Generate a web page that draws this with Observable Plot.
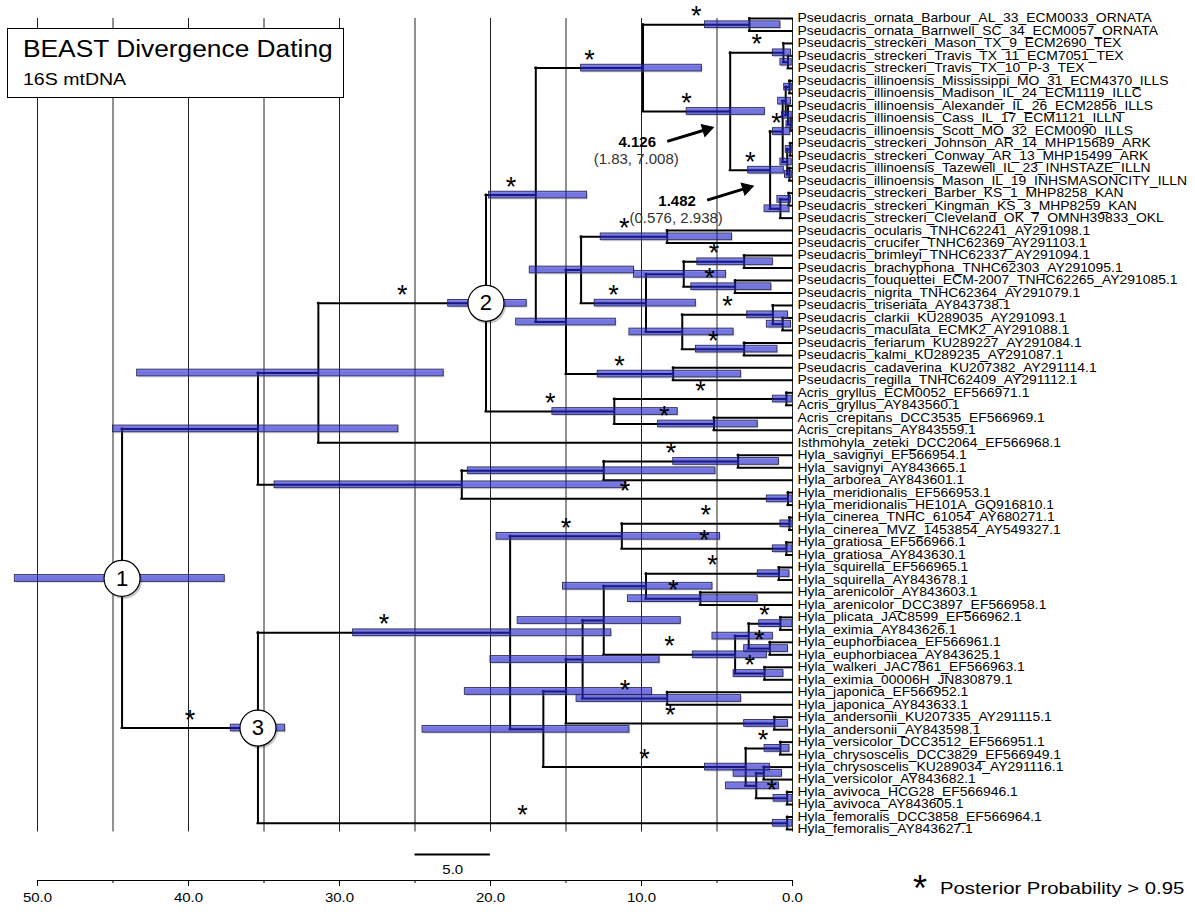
<!DOCTYPE html>
<html><head><meta charset="utf-8">
<script src="https://cdn.jsdelivr.net/npm/d3@7"></script>
<script src="https://cdn.jsdelivr.net/npm/@observablehq/plot@0.6"></script>
<style>
body{margin:0;background:#fff;font-family:'Liberation Sans',Arial,Helvetica,sans-serif;color:#000}
#wrap{position:relative;width:1195px;height:917px;overflow:hidden}
#titlebox{position:absolute;left:7px;top:28px;width:335px;height:68px;border:1px solid #000;background:#fff}
.st{position:absolute;white-space:nowrap;transform-origin:0 0;line-height:1}
#t1{left:15px;top:9px;font-size:23.5px;transform:scaleX(1.12)}
#t2{left:15px;top:42px;font-size:16.3px;transform:scaleX(1.2)}
#legstar{left:913px;top:871px;font-size:36px}
#legtext{left:940px;top:880px;font-size:16.5px;transform:scaleX(1.23)}
</style></head><body>
<div id="wrap"><div id="chart"></div>
<div id="titlebox"><div class="st" id="t1">BEAST Divergence Dating</div><div class="st" id="t2">16S mtDNA</div></div>
<div class="st" id="legstar">*</div><div class="st" id="legtext">Posterior Probability &gt; 0.95</div>
</div>
<script>
// ---- tip labels, top to bottom ----
const taxa = [
"Pseudacris_ornata_Barbour_AL_33_ECM0033_ORNATA",
"Pseudacris_ornata_Barnwell_SC_34_ECM0057_ORNATA",
"Pseudacris_streckeri_Mason_TX_9_ECM2690_TEX",
"Pseudacris_streckeri_Travis_TX_11_ECM7051_TEX",
"Pseudacris_streckeri_Travis_TX_10_P-3_TEX",
"Pseudacris_illinoensis_Mississippi_MO_31_ECM4370_ILLS",
"Pseudacris_illinoensis_Madison_IL_24_ECM1119_ILLC",
"Pseudacris_illinoensis_Alexander_IL_26_ECM2856_ILLS",
"Pseudacris_illinoensis_Cass_IL_17_ECM1121_ILLN",
"Pseudacris_illinoensis_Scott_MO_32_ECM0090_ILLS",
"Pseudacris_streckeri_Johnson_AR_14_MHP15689_ARK",
"Pseudacris_streckeri_Conway_AR_13_MHP15499_ARK",
"Pseudacris_illinoensis_Tazewell_IL_23_INHSTAZE_ILLN",
"Pseudacris_illinoensis_Mason_IL_19_INHSMASONCITY_ILLN",
"Pseudacris_streckeri_Barber_KS_1_MHP8258_KAN",
"Pseudacris_streckeri_Kingman_KS_3_MHP8259_KAN",
"Pseudacris_streckeri_Cleveland_OK_7_OMNH39833_OKL",
"Pseudacris_ocularis_TNHC62241_AY291098.1",
"Pseudacris_crucifer_TNHC62369_AY291103.1",
"Pseudacris_brimleyi_TNHC62337_AY291094.1",
"Pseudacris_brachyphona_TNHC62303_AY291095.1",
"Pseudacris_fouquettei_ECM-2007_TNHC62265_AY291085.1",
"Pseudacris_nigrita_TNHC62364_AY291079.1",
"Pseudacris_triseriata_AY843738.1",
"Pseudacris_clarkii_KU289035_AY291093.1",
"Pseudacris_maculata_ECMK2_AY291088.1",
"Pseudacris_feriarum_KU289227_AY291084.1",
"Pseudacris_kalmi_KU289235_AY291087.1",
"Pseudacris_cadaverina_KU207382_AY291114.1",
"Pseudacris_regilla_TNHC62409_AY291112.1",
"Acris_gryllus_ECM0052_EF566971.1",
"Acris_gryllus_AY843560.1",
"Acris_crepitans_DCC3535_EF566969.1",
"Acris_crepitans_AY843559.1",
"Isthmohyla_zeteki_DCC2064_EF566968.1",
"Hyla_savignyi_EF566954.1",
"Hyla_savignyi_AY843665.1",
"Hyla_arborea_AY843601.1",
"Hyla_meridionalis_EF566953.1",
"Hyla_meridionalis_HE101A_GQ916810.1",
"Hyla_cinerea_TNHC_61054_AY680271.1",
"Hyla_cinerea_MVZ_1453854_AY549327.1",
"Hyla_gratiosa_EF566966.1",
"Hyla_gratiosa_AY843630.1",
"Hyla_squirella_EF566965.1",
"Hyla_squirella_AY843678.1",
"Hyla_arenicolor_AY843603.1",
"Hyla_arenicolor_DCC3897_EF566958.1",
"Hyla_plicata_JAC8599_EF566962.1",
"Hyla_eximia_AY843626.1",
"Hyla_euphorbiacea_EF566961.1",
"Hyla_euphorbiacea_AY843625.1",
"Hyla_walkeri_JAC7861_EF566963.1",
"Hyla_eximia_00006H_JN830879.1",
"Hyla_japonica_EF566952.1",
"Hyla_japonica_AY843633.1",
"Hyla_andersonii_KU207335_AY291115.1",
"Hyla_andersonii_AY843598.1",
"Hyla_versicolor_DCC3512_EF566951.1",
"Hyla_chrysoscelis_DCC3829_EF566949.1",
"Hyla_chrysoscelis_KU289034_AY291116.1",
"Hyla_versicolor_AY843682.1",
"Hyla_avivoca_HCG28_EF566946.1",
"Hyla_avivoca_AY843605.1",
"Hyla_femoralis_DCC3858_EF566964.1",
"Hyla_femoralis_AY843627.1"
];
// parent node of each tip (same order as taxa)
const leafParent = [
"Porn","Porn","Ptex","Ptrav","Ptrav","PillA1","PillA1","PillA2","PillA3","PillA3",
"PillB1","PillB1","PillB2","PillB2","Pbk","Pbk","Pko","Pocu","Pocu","Pbrim",
"Pbrim","Pfou","Pfou","Ptri","Pclm","Pclm","Pfer","Pfer","Pcad","Pcad",
"Agry","Agry","Acre","Acre","A318","Hsav","Hsav","H603","Hmer","Hmer",
"Hcin","Hcin","Hgra","Hgra","Hsqu","Hsqu","Hare","Hare","Hpli","Hpli",
"Heup","Heup","Hwal","Hwal","Hjap","Hjap","Hand","Hand","Hvc","Hvc",
"Hck","Hck","Havi","Havi","Hfem","Hfem"
];
// internal nodes: [id, parent, age (Ma), 95% HPD older, 95% HPD younger, posterior > 0.95]
const nodes = [
["R",null,44.4,51.5,37.6,0],
["OW","R",35.4,45.0,26.1,0],
["N3","R",35.4,37.2,33.6,1],
["A318","OW",31.4,43.4,23.1,0],
["N2","A318",20.3,22.8,17.6,1],
["P536","N2",17.0,20.1,13.6,1],
["P643","P536",9.9,14.0,6.0,1],
["Porn","P643",2.85,5.8,0.8,1],
["P4126","P643",4.126,7.008,1.83,1],
["Ptex","P4126",0.6,1.3,0.1,1],
["Ptrav","Ptex",0.3,0.8,0.05,0],
["P1482","P4126",1.482,2.938,0.576,1],
["Pill","P1482",0.65,1.3,0.15,1],
["PillA","Pill",0.45,0.95,0.1,0],
["PillA1","PillA",0.2,0.55,0.02,0],
["PillA2","PillA",0.3,0.7,0.05,0],
["PillA3","PillA2",0.12,0.4,0.01,0],
["PillB","Pill",0.35,0.8,0.05,0],
["PillB1","PillB",0.15,0.45,0.01,0],
["PillB2","PillB",0.2,0.5,0.02,0],
["Pko","P1482",0.8,1.85,0.2,0],
["Pbk","Pko",0.25,1.0,0.1,0],
["P565","P536",15.0,18.3,11.7,0],
["P581","P565",14.0,17.4,10.5,0],
["Pocu","P581",8.3,12.7,4.0,1],
["P646","P581",9.7,13.1,6.4,1],
["P683","P646",7.2,10.5,4.4,0],
["Pbrim","P683",3.2,6.3,1.3,1],
["Pfou","P683",3.8,6.7,1.4,1],
["P682","P646",7.3,10.8,3.9,0],
["Ptri","P682",1.3,3.0,0.3,1],
["Pclm","Ptri",0.65,1.7,0.1,0],
["Pfer","P682",3.2,6.4,1.0,1],
["Pcad","P565",7.9,12.9,3.4,1],
["Acr","N2",11.8,15.9,7.6,1],
["Agry","Acr",0.4,1.3,0.0,1],
["Acre","Acr",5.2,8.9,2.3,1],
["H462","OW",21.9,34.3,11.0,0],
["H603","H462",12.5,21.5,5.1,0],
["Hsav","H603",3.6,7.9,0.9,1],
["Hmer","H462",0.3,1.7,0.0,1],
["H509","N3",18.7,29.1,12.0,1],
["H621","H509",11.3,19.6,4.8,1],
["Hcin","H621",0.2,0.8,0.0,1],
["Hgra","H621",0.4,1.3,0.0,1],
["H543","H509",16.5,24.5,10.8,0],
["H565","H543",15.0,21.7,9.3,0],
["H582","H565",13.9,20.0,8.8,0],
["H604","H582",12.5,18.2,7.4,0],
["H646","H604",9.7,15.2,5.3,0],
["Hsqu","H646",0.9,2.3,0.2,1],
["Hare","H646",6.1,10.9,2.3,1],
["H735","H604",3.8,6.6,1.7,1],
["H748","H735",2.9,5.3,1.3,0],
["Hpli","H748",0.8,2.2,0.0,1],
["Heup","H748",1.5,3.2,0.3,1],
["Hwal","H735",1.85,3.9,0.6,1],
["Hjap","H582",8.3,14.3,3.4,1],
["Hand","H565",1.2,3.2,0.3,1],
["H745","H543",3.1,5.8,1.5,1],
["Hvc","H745",0.8,1.85,0.2,1],
["H756","H745",2.4,4.4,0.9,0],
["Hck","H756",1.9,3.9,0.7,0],
["Havi","H756",0.35,1.25,0.0,1],
["Hfem","N3",0.35,1.3,0.0,1]
];
const circleLabels = [["R","1"],["N2","2"],["N3","3"]];
const annotatedNodes = ["P4126","P1482"];
const gridAges = d3.range(0, 51, 5);
const majorTicks = d3.range(0, 51, 10);
const minorTicks = d3.range(5, 50, 10);
const scaleBar = [{start: 25, length: 5}];

// ---- build tree layout ----
const byId = new Map(nodes.map(([id, parent, age, old, young, star]) => [id, {id, parent, age, old, young, star: !!star, kids: []}]));
const leaves = taxa.map((name, i) => ({name, parent: leafParent[i], age: 0, row: i, leaf: true}));
leaves.forEach(l => byId.get(l.parent).kids.push(l));
byId.forEach(n => { if (n.parent) byId.get(n.parent).kids.push(n); });
function rowOf(n) {
  if (n.row != null) return n.row;
  const rs = n.kids.map(rowOf);
  n.first = d3.min(rs); n.last = d3.max(rs);
  n.row = (n.first + n.last) / 2;
  return n.row;
}
const internal = Array.from(byId.values());
internal.forEach(rowOf);
const everything = internal.concat(leaves);
const branches = everything.filter(n => n.parent).map(n => ({row: n.row, x1: byId.get(n.parent).age, x2: n.age}));
const starred = internal.filter(n => n.star && n.parent).map(n => ({row: n.row, mid: (byId.get(n.parent).age + n.age) / 2}));
const circles = circleLabels.map(([id, label]) => ({...byId.get(id), label}));
const annos = annotatedNodes.map(id => byId.get(id));

// annotation arrow geometry (offsets from the annotated node, in age / row units)
const ARROW_TAIL = [4.17, 2.4], ARROW_HEAD = [1.57, 1.44], ARROW_ROT = 73;
const BAR = 0.27;
const svg = Plot.plot({
  width: 1195, height: 917,
  marginLeft: 37, marginRight: 403, marginTop: 18, marginBottom: 37,
  x: {domain: [50, 0], range: [37, 792]},
  y: {domain: [0, taxa.length - 1], range: [18, 829], axis: null},
  style: {fontFamily: "'Liberation Sans', Arial, Helvetica, sans-serif", background: "white", color: "black"},
  marks: [
    Plot.ruleX(gridAges, {x: d => d, y1: 0, y2: taxa.length - 1 + 0.2, stroke: "#222", strokeWidth: 1}),
    Plot.ruleY(branches, {y: "row", x1: "x1", x2: "x2", stroke: "black", strokeWidth: 2, strokeLinecap: "square"}),
    Plot.ruleX(internal, {x: "age", y1: "first", y2: "last", stroke: "black", strokeWidth: 2, strokeLinecap: "square"}),
    Plot.rect(internal, {x1: "old", x2: "young", y1: d => d.row - BAR, y2: d => d.row + BAR, dx: 1.2, dy: 1.5, fill: "#7a7a7a", fillOpacity: 0.28}),
    Plot.rect(internal, {x1: "old", x2: "young", y1: d => d.row - BAR, y2: d => d.row + BAR, fill: "#1010e6", fillOpacity: 0.5, stroke: "#2a2a55", strokeWidth: 0.9}),
    Plot.text(starred, {x: "mid", y: "row", text: () => "*", fontSize: 27, dy: -8}),
    Plot.dot(circles, {x: "age", y: "row", r: 18.5, fill: "black", fillOpacity: 0.22, dx: 1.5, dy: 2}),
    Plot.dot(circles, {x: "age", y: "row", r: 18, fill: "white", stroke: "black", strokeWidth: 1.2}),
    Plot.text(circles, {x: "age", y: "row", text: "label", fontSize: 22}),
    Plot.text(leaves, {x: 0, y: "row", text: "name", textAnchor: "start", dx: 5, fontSize: 12.2}),
    Plot.axisX({ticks: majorTicks, tickFormat: d => d.toFixed(1), tickSize: 6, tickPadding: 7, fontSize: 12.5, label: null}),
    Plot.axisX({ticks: minorTicks, tickFormat: () => "", tickSize: 3, label: null}),
    Plot.frame({anchor: "bottom", strokeWidth: 1.2}),
    Plot.ruleY(scaleBar, {y: taxa.length + 1, x1: "start", x2: d => d.start - d.length, stroke: "black", strokeWidth: 2}),
    Plot.text(scaleBar, {x: d => d.start - d.length / 2, y: taxa.length + 1, text: d => d.length.toFixed(1), dy: 16, fontSize: 12.5}),
    Plot.link(annos, {x1: d => d.age + ARROW_TAIL[0], y1: d => d.row + ARROW_TAIL[1], x2: d => d.age + ARROW_HEAD[0], y2: d => d.row + ARROW_HEAD[1], stroke: "black", strokeWidth: 3}),
    Plot.dot(annos, {x: d => d.age + ARROW_HEAD[0], y: d => d.row + ARROW_HEAD[1], symbol: "triangle", r: 4.6, fill: "black", stroke: "black", strokeWidth: 1, rotate: ARROW_ROT}),
    Plot.text(annos, {x: "age", y: "row", text: d => String(d.age), dx: -93, dy: 31, fontSize: 15, fontWeight: "bold"}),
    Plot.text(annos, {x: "age", y: "row", text: d => `(${d.young}, ${d.old})`, dx: -94, dy: 48, fontSize: 15, fill: "#333"})
  ]
});
document.getElementById("chart").appendChild(svg);

// horizontal stretch of certain labels to match the reference's wide lettering
function stretch(t, s) {
  const tr = t.getAttribute("transform");
  if (tr) t.setAttribute("transform", tr + ` scale(${s},1)`);
  else {
    const x = parseFloat(t.getAttribute("x") || 0);
    t.setAttribute("x", x / s);
    t.setAttribute("transform", `scale(${s},1)`);
  }
}
const tipSet = new Set(taxa);
svg.querySelectorAll("text").forEach(t => {
  const s = t.textContent;
  if (tipSet.has(s)) stretch(t, 1.14);
  else if (/^\d+\.\d$/.test(s)) stretch(t, 1.2);
});
</script>
</body></html>
